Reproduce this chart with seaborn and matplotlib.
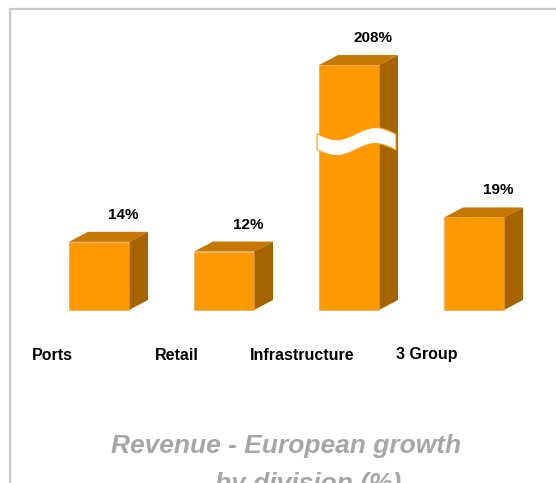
import numpy as np
import matplotlib
matplotlib.use("Agg")
import matplotlib.pyplot as plt
from matplotlib.patches import Polygon
from matplotlib.lines import Line2D
import seaborn as sns
import pandas as pd

# ---- data ----
categories = ["Ports", "Retail", "Infrastructure", "3 Group"]
growth_pct = [14, 12, 208, 19]
value_labels = ["14%", "12%", "208%", "19%"]
title_line1 = "Revenue - European growth"
title_line2 = "by division (%)"
BREAK_CAP = 50.3          # displayed height of a bar whose value is off-scale

sns.set_style("white")
plt.rcParams["font.family"] = ["Liberation Sans", "DejaVu Sans"]

FRONT = "#FF9900"
TOP = "#C67700"
SIDE = "#A66400"

W, H = 556, 483
fig = plt.figure(figsize=(W / 100, H / 100), dpi=100)
ax = fig.add_axes([0, 0, 1, 1])

# pixel geometry -> data scale
px_per_cat = 125.0
first_center_px = 99.0
px_per_pct = 4.87
baseline_from_bottom = 173.0
ax.set_xlim(-first_center_px / px_per_cat, (W - first_center_px) / px_per_cat)
ax.set_ylim(-baseline_from_bottom / px_per_pct, (H - baseline_from_bottom) / px_per_pct)

display_vals = [min(v, BREAK_CAP) for v in growth_pct]
df = pd.DataFrame({"cat": categories, "val": display_vals})
sns.barplot(data=df, x="cat", y="val", color=FRONT, saturation=1, width=0.48,
            ax=ax, edgecolor="#d9a050", linewidth=0.4, zorder=3)

ax.set_xlim(-first_center_px / px_per_cat, (W - first_center_px) / px_per_cat)
ax.set_ylim(-baseline_from_bottom / px_per_pct, (H - baseline_from_bottom) / px_per_pct)
for s in ax.spines.values():
    s.set_visible(False)
ax.set_xticks([]); ax.set_yticks([])
ax.set_xlabel(""); ax.set_ylabel("")

dx = 19 / px_per_cat
dy = 10 / px_per_pct

bars = list(ax.patches)
for i, p in enumerate(bars):
    x0 = p.get_x(); w = p.get_width(); h = p.get_height()
    x1 = x0 + w
    top = Polygon([(x0, h), (x1, h), (x1 + dx, h + dy), (x0 + dx, h + dy)],
                  closed=True, facecolor=TOP, edgecolor="none", zorder=2)
    side = Polygon([(x1, 0), (x1 + dx, dy), (x1 + dx, h + dy), (x1, h)],
                   closed=True, facecolor=SIDE, edgecolor="none", zorder=2)
    ax.add_patch(top); ax.add_patch(side)
    # value label
    ax.text(x0 + w / 2 + 24 / px_per_cat, h + 27 / px_per_pct, value_labels[i],
            ha="center", va="center", fontsize=11, fontweight="bold", color="black", zorder=5)
    # category label
    ax.text(x0 + w / 2 - 47 / px_per_cat, -45 / px_per_pct, categories[i],
            ha="center", va="center", fontsize=11.5, fontweight="bold", color="black", zorder=5)
    # axis break symbol on off-scale bars
    if growth_pct[i] > BREAK_CAP:
        xs = np.linspace(x0 - 2 / px_per_cat, x1 + dx - 2 / px_per_cat, 80)
        period = 78 / px_per_cat
        amp = 6 / px_per_pct
        yc = h * 0.72
        ytop = yc - amp * np.sin(2 * np.pi * (xs - xs[0]) / period)
        ybot = ytop - 16 / px_per_pct
        verts = list(zip(xs, ytop)) + list(zip(xs[::-1], ybot[::-1]))
        ax.add_patch(Polygon(verts, closed=True, facecolor="white",
                             edgecolor=FRONT, linewidth=0.8, zorder=6))

# title
fig.text(286 / W, (H - 453) / H, title_line1, ha="center", va="baseline",
         fontsize=19, fontweight="bold", fontstyle="italic", color="#A6A6A6")
fig.text(215 / W, (H - 491) / H, title_line2, ha="left", va="baseline",
         fontsize=19, fontweight="bold", fontstyle="italic", color="#A6A6A6")

# frame (left and top)
bx = 10 / W
by = (H - 9) / H
fig.add_artist(Line2D([bx, bx, 1.0], [0.0, by, by], transform=fig.transFigure,
                      color="#C8C8C8", linewidth=1.6))

fig.savefig("out.png", dpi=100)
